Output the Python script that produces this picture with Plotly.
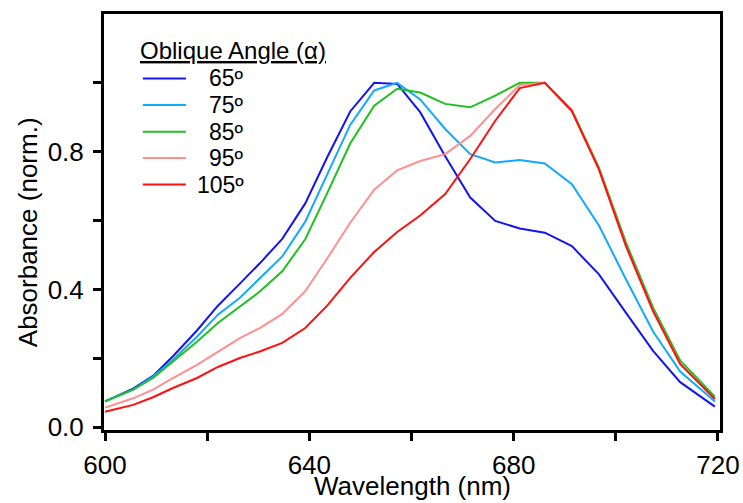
"""
Normalized absorbance spectra at several oblique angles
"""
import plotly.graph_objects as go

# wavelength sampling (nm)
wavelength = [600.0, 605.5, 609.4, 613.3, 618.0, 622.1, 626.4, 630.3, 634.7, 639.2,
              643.5, 648.0, 652.7, 657.2, 661.7, 666.6, 671.5, 676.4, 681.2, 686.1,
              691.4, 696.7, 702.0, 707.3, 712.6, 719.4]

abs_65 = [0.075, 0.112, 0.149, 0.206, 0.281, 0.353, 0.417, 0.476, 0.547, 0.650,
          0.784, 0.917, 1.000, 0.997, 0.915, 0.787, 0.667, 0.599, 0.577, 0.565,
          0.526, 0.444, 0.332, 0.222, 0.131, 0.060]
abs_75 = [0.075, 0.109, 0.147, 0.196, 0.263, 0.327, 0.376, 0.432, 0.496, 0.597,
          0.735, 0.878, 0.978, 1.000, 0.952, 0.866, 0.793, 0.769, 0.776, 0.766,
          0.706, 0.586, 0.429, 0.278, 0.162, 0.075]
abs_85 = [0.075, 0.109, 0.143, 0.191, 0.248, 0.303, 0.351, 0.394, 0.453, 0.546,
          0.680, 0.824, 0.934, 0.983, 0.972, 0.939, 0.929, 0.963, 1.000, 1.000,
          0.921, 0.754, 0.536, 0.347, 0.194, 0.089]
abs_95 = [0.057, 0.084, 0.109, 0.143, 0.181, 0.220, 0.259, 0.288, 0.329, 0.395,
          0.490, 0.594, 0.690, 0.746, 0.773, 0.793, 0.846, 0.924, 0.994, 1.000,
          0.918, 0.749, 0.526, 0.337, 0.184, 0.082]
abs_105 = [0.045, 0.065, 0.087, 0.114, 0.143, 0.175, 0.201, 0.220, 0.245, 0.288,
           0.353, 0.434, 0.509, 0.567, 0.615, 0.677, 0.779, 0.890, 0.985, 1.000,
           0.918, 0.749, 0.526, 0.337, 0.184, 0.082]

series_names = ["65º", "75º", "85º", "95º", "105º"]
series_values = [abs_65, abs_75, abs_85, abs_95, abs_105]
series_colors = ["#1414f5", "#10aaff", "#1ec21e", "#ff8f8f", "#ff1010"]

x_ticks = [600, 620, 640, 660, 680, 700, 720]
x_ticktext = ["600", "", "640", "", "680", "", "720"]
y_ticks = [0.0, 0.2, 0.4, 0.6, 0.8, 1.0]
y_ticktext = ["0.0", "", "0.4", "", "0.8", ""]

FONT = "Liberation Sans, Arial, sans-serif"

fig = go.Figure()

for name, values, color in zip(series_names, series_values, series_colors):
    fig.add_trace(go.Scatter(
        x=wavelength,
        y=values,
        mode='lines',
        name=name,
        line=dict(color=color, width=2)
    ))

# Igor-style legend: underlined title, short line samples, right-aligned labels
annotations = [dict(
    text="<u>Oblique Angle (α)</u>",
    xref='paper', yref='paper', x=0.056, y=0.912,
    xanchor='left', yanchor='middle', showarrow=False,
    font=dict(family=FONT, size=24, color='black')
)]
shapes = []
legend_rows = [0.845, 0.781, 0.717, 0.654, 0.590]
for name, color, row in zip(series_names, series_colors, legend_rows):
    shapes.append(dict(
        type='line', xref='paper', yref='paper',
        x0=0.063, x1=0.133, y0=row, y1=row,
        line=dict(color=color, width=2)
    ))
    annotations.append(dict(
        text=name, xref='paper', yref='paper', x=0.230, y=row,
        xanchor='right', yanchor='middle', showarrow=False,
        font=dict(family=FONT, size=23, color='black')
    ))

# axis titles placed by hand so they sit where the reference has them
annotations.append(dict(
    text="Wavelength (nm)", xref='paper', yref='paper', x=0.5, y=-0.135,
    xanchor='center', yanchor='middle', showarrow=False,
    font=dict(family=FONT, size=26, color='black')
))
annotations.append(dict(
    text="Absorbance (norm.)", xref='paper', yref='paper', x=-0.123, y=0.476,
    xanchor='center', yanchor='middle', showarrow=False, textangle=-90,
    font=dict(family=FONT, size=26, color='black')
))

fig.update_layout(
    width=743,
    height=503,
    margin=dict(l=104, r=23, t=14, b=73, autoexpand=False),
    paper_bgcolor='white',
    plot_bgcolor='white',
    font=dict(family=FONT, size=26, color='black'),
    showlegend=False,
    annotations=annotations,
    shapes=shapes
)

fig.update_xaxes(
    range=[599.8, 720.4],
    tickvals=x_ticks,
    ticktext=x_ticktext,
    ticks='outside',
    ticklen=8,
    tickwidth=2.5,
    tickcolor='black',
    ticklabelstandoff=2,
    showline=True,
    linecolor='black',
    linewidth=3,
    mirror=True,
    showgrid=False,
    zeroline=False,
    automargin=False
)

fig.update_yaxes(
    range=[-0.008, 1.2],
    tickvals=y_ticks,
    ticktext=y_ticktext,
    ticks='outside',
    ticklen=8,
    tickwidth=2.5,
    tickcolor='black',
    ticklabelstandoff=4,
    showline=True,
    linecolor='black',
    linewidth=3,
    mirror=True,
    showgrid=False,
    zeroline=False,
    automargin=False
)

# drop the default page margin so the figure sits at the window's corner
fig.write_html("out.html", config={'displayModeBar': False},
               post_script="document.body.style.margin='0';")
